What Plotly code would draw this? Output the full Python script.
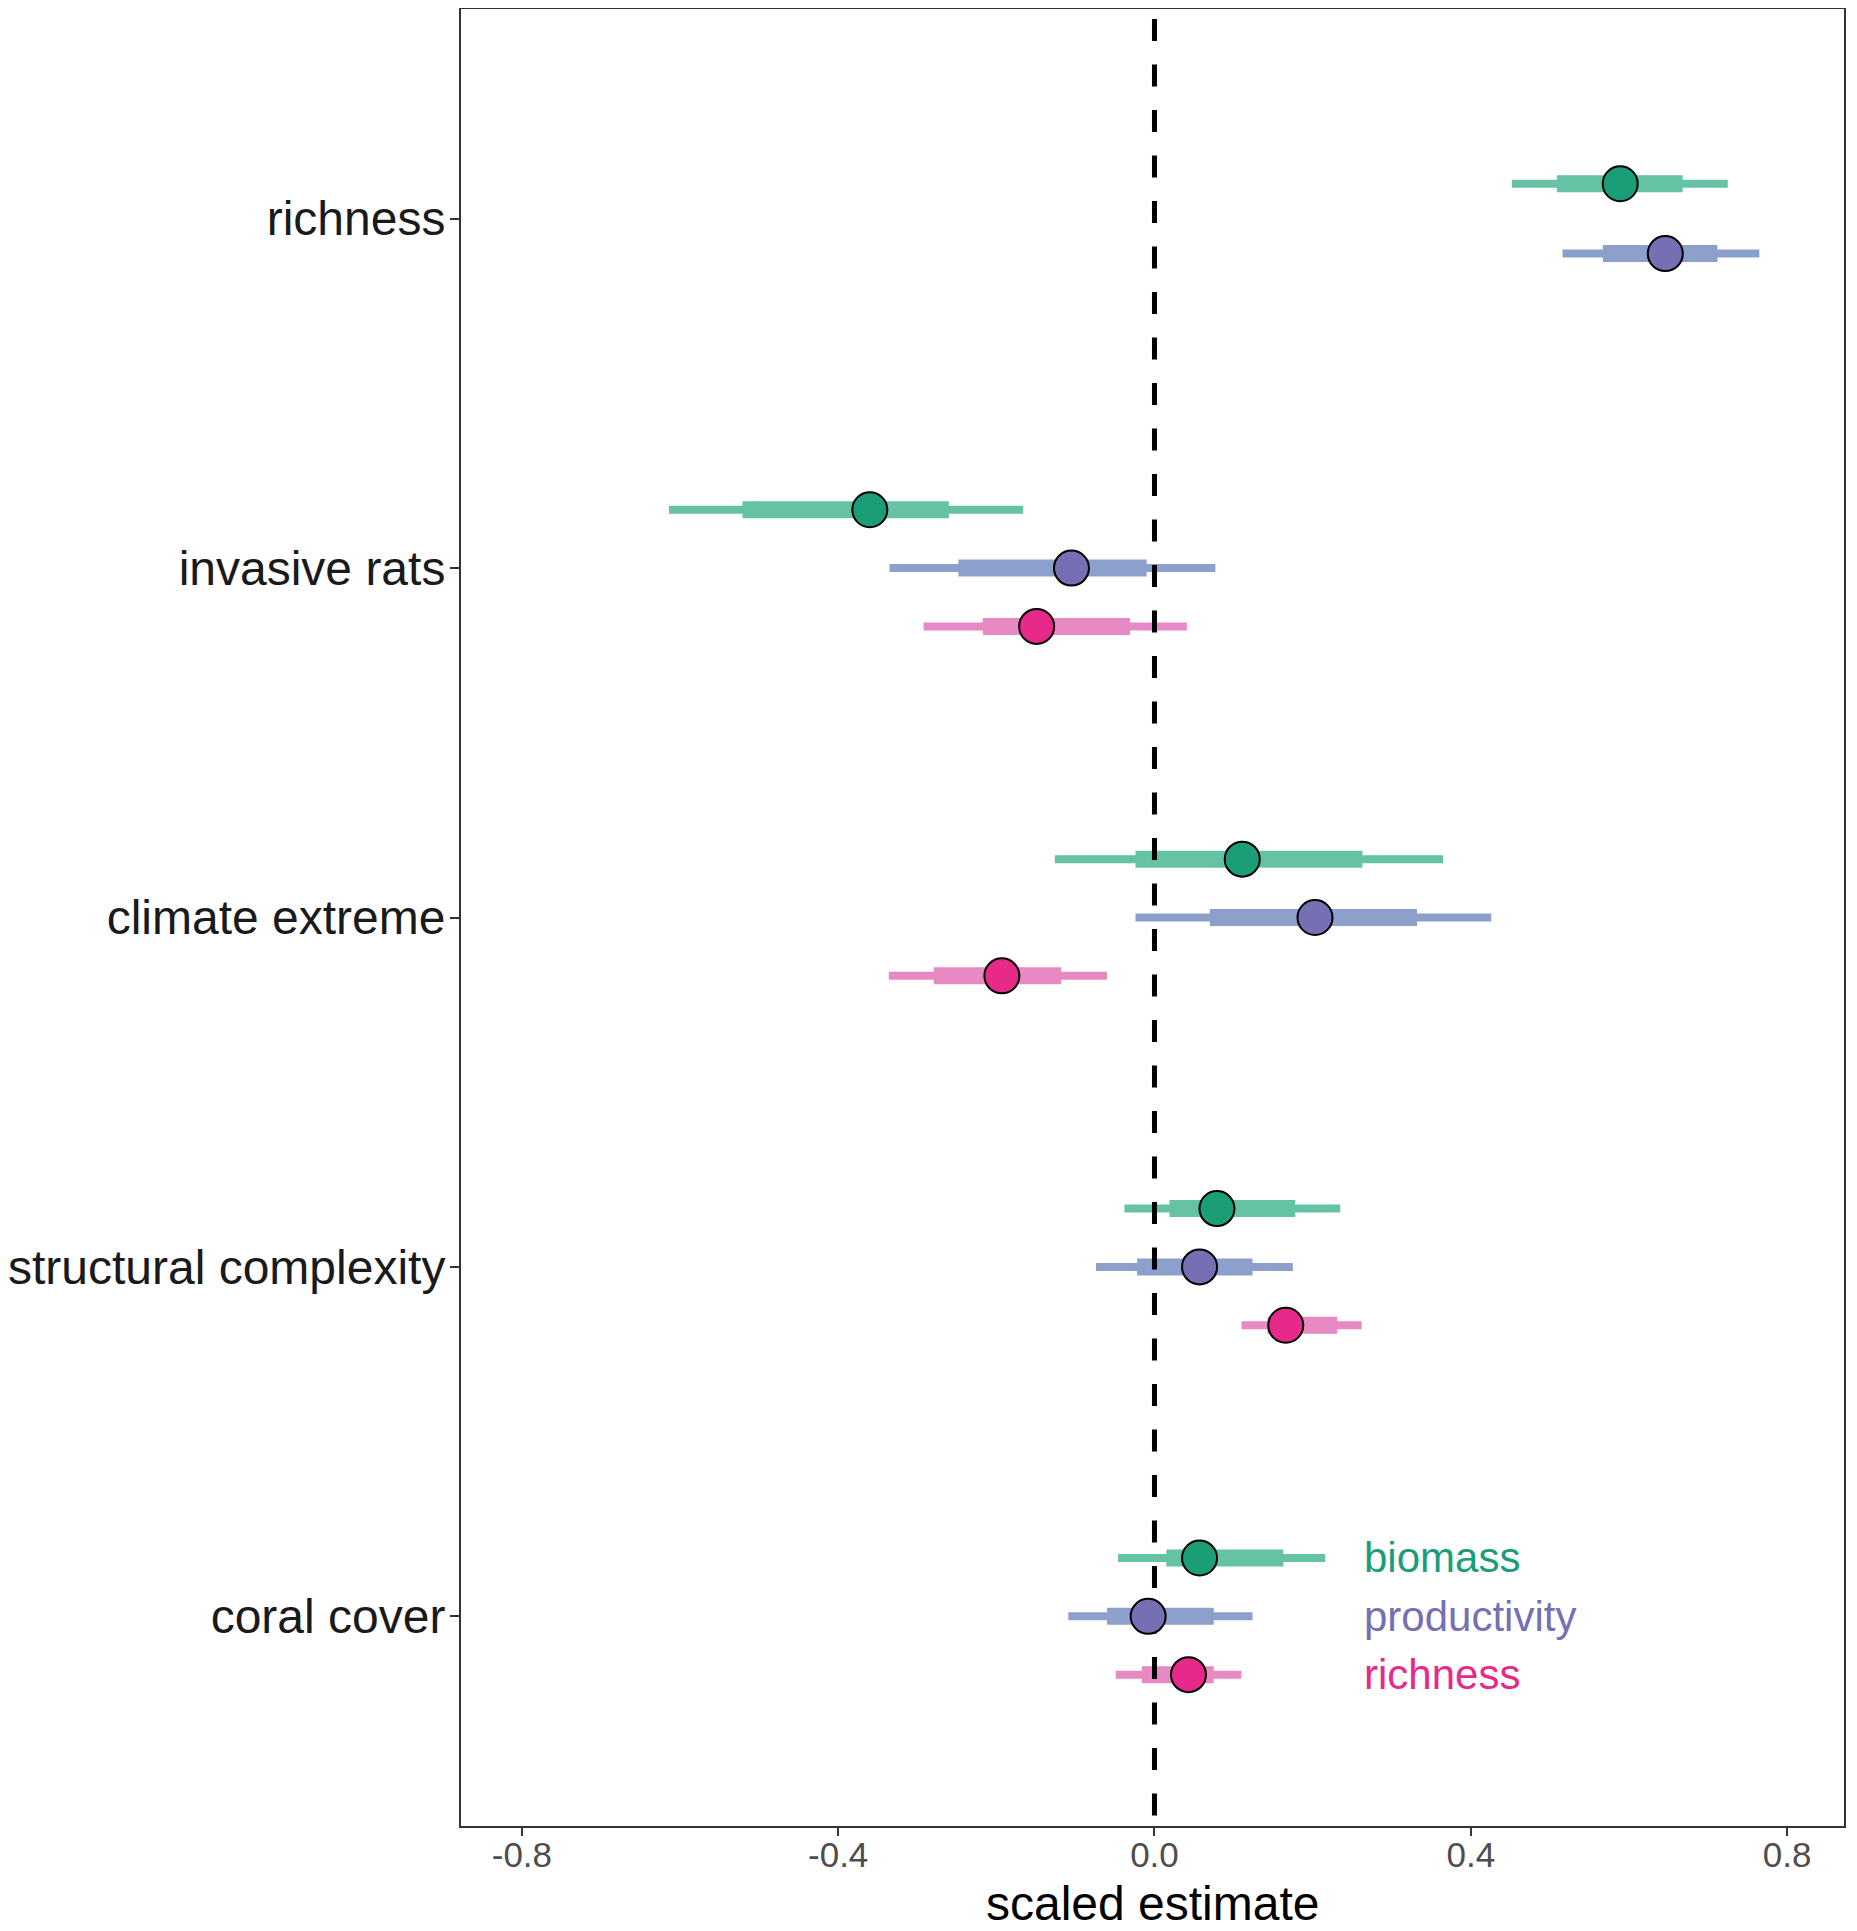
import plotly.graph_objects as go

categories = ["coral cover", "structural complexity", "climate extreme", "invasive rats", "richness"]
series = ["biomass", "productivity", "richness"]

# per series: category -> (thin_lo, thick_lo, estimate, thick_hi, thin_hi)
biomass = {
    "richness": (0.452, 0.509, 0.589, 0.668, 0.725),
    "invasive rats": (-0.614, -0.521, -0.360, -0.260, -0.166),
    "climate extreme": (-0.126, -0.024, 0.111, 0.263, 0.365),
    "structural complexity": (-0.038, 0.019, 0.079, 0.178, 0.235),
    "coral cover": (-0.046, 0.015, 0.057, 0.163, 0.216),
}
productivity = {
    "richness": (0.516, 0.567, 0.646, 0.712, 0.765),
    "invasive rats": (-0.335, -0.248, -0.105, -0.010, 0.077),
    "climate extreme": (-0.024, 0.070, 0.203, 0.332, 0.426),
    "structural complexity": (-0.074, -0.022, 0.057, 0.124, 0.175),
    "coral cover": (-0.109, -0.060, -0.008, 0.075, 0.124),
}
richness = {
    "invasive rats": (-0.292, -0.217, -0.149, -0.031, 0.041),
    "climate extreme": (-0.336, -0.279, -0.193, -0.118, -0.060),
    "structural complexity": (0.110, 0.143, 0.166, 0.231, 0.262),
    "coral cover": (-0.049, -0.016, 0.043, 0.075, 0.110),
}
data = {"biomass": biomass, "productivity": productivity, "richness": richness}

point_colors = {"biomass": "#1B9E77", "productivity": "#7570B3", "richness": "#E7298A"}
bar_colors = {"biomass": "#66C2A5", "productivity": "#8DA0CB", "richness": "#E78AC3"}

x_ticks = [-0.8, -0.4, 0.0, 0.4, 0.8]
x_range = [-0.877, 0.872]
y_range = [0.4, 5.6]

FONT = "Liberation Sans, Arial, sans-serif"


def ypos(cat, s):
    present = [k for k in series if cat in data[k]]
    n = len(present)
    i = present.index(s)
    offs = [(n - 1) / 2 - j for j in range(n)]
    return (categories.index(cat) + 1) + offs[i] * (0.2 if n == 2 else 0.167)


fig = go.Figure()

# thin intervals
for s in series:
    xs, ys = [], []
    for cat, v in data[s].items():
        y = ypos(cat, s)
        xs += [v[0], v[4], None]
        ys += [y, y, None]
    fig.add_trace(go.Scatter(x=xs, y=ys, mode="lines", line=dict(color=bar_colors[s], width=8),
                             hoverinfo="skip", showlegend=False))
# thick intervals
for s in series:
    xs, ys = [], []
    for cat, v in data[s].items():
        y = ypos(cat, s)
        xs += [v[1], v[3], None]
        ys += [y, y, None]
    fig.add_trace(go.Scatter(x=xs, y=ys, mode="lines", line=dict(color=bar_colors[s], width=17),
                             hoverinfo="skip", showlegend=False))

# zero reference line (drawn top to bottom)
fig.add_trace(go.Scatter(x=[0, 0], y=[y_range[1], y_range[0]], mode="lines",
                         line=dict(color="black", width=5, dash="0px,10px,22px,13.5px"),
                         hoverinfo="skip", showlegend=False))

# points
for s in series:
    xs = [v[2] for v in data[s].values()]
    ys = [ypos(cat, s) for cat in data[s]]
    fig.add_trace(go.Scatter(x=xs, y=ys, mode="markers",
                             marker=dict(size=35, color=point_colors[s], line=dict(color="black", width=2)),
                             name=s, showlegend=False))

# legend labels as text
for s in series:
    fig.add_annotation(x=0.263, y=ypos("coral cover", s), xref="x", yref="y", text=s,
                       showarrow=False, xanchor="left", yanchor="middle",
                       font=dict(size=42, color=point_colors[s], family=FONT))

# x-axis title
fig.add_annotation(x=0.5, y=-0.0267, xref="paper", yref="paper", text="scaled estimate",
                   showarrow=False, xanchor="center", yanchor="top",
                   font=dict(size=48, color="black", family=FONT))

fig.update_layout(
    width=1849, height=1923,
    margin=dict(l=453, r=13, t=1, b=105, autoexpand=False),
    plot_bgcolor="white", paper_bgcolor="white",
    font=dict(family=FONT),
)
fig.update_xaxes(range=x_range, tickvals=x_ticks, ticktext=[f"{t:.1f}" for t in x_ticks],
                 automargin=False, ticklabelstandoff=-11,
                 showgrid=False, zeroline=False, showline=True, mirror=True,
                 linecolor="#333333", linewidth=2, ticks="outside", ticklen=8, tickwidth=2,
                 tickcolor="#333333", tickfont=dict(size=35, color="#4D4D4D"))
fig.update_yaxes(range=y_range, tickvals=list(range(1, len(categories) + 1)), ticktext=categories,
                 automargin=False, ticklabelstandoff=-5,
                 showgrid=False, zeroline=False, showline=True, mirror=True,
                 linecolor="#333333", linewidth=2, ticks="outside", ticklen=9, tickwidth=2,
                 tickcolor="#333333", tickfont=dict(size=48, color="#1A1A1A"))

fig.write_html("out.html")
